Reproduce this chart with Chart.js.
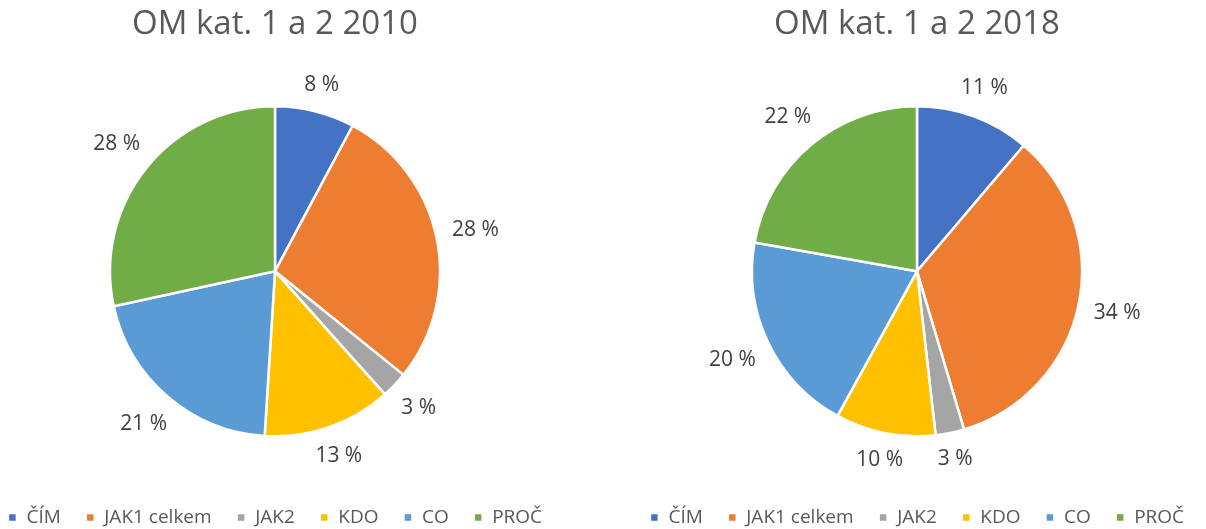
<!DOCTYPE html>
<html lang="cs">
<head>
<meta charset="UTF-8">
<title>OM kat. 1 a 2</title>
<script src="https://cdn.jsdelivr.net/npm/chart.js"></script>
<style>
    body { margin: 0; background: #fff; width: 1206px; height: 529px; overflow: hidden; position: relative; }
    .box { position: absolute; top: 0; height: 537px; width: 600px; }
    #left { left: -25px; }
    #right { left: 617px; }
</style>
</head>
<body>
<div class="box" id="left"><canvas id="c2010"></canvas></div>
<div class="box" id="right"><canvas id="c2018"></canvas></div>
<script>
    const categories = ['ČÍM', 'JAK1 celkem', 'JAK2', 'KDO', 'CO', 'PROČ'];
    const values2010 = [7.8, 28.0, 2.6, 12.6, 20.6, 28.4];
    const values2018 = [11.2, 34.2, 2.8, 9.8, 19.8, 22.2];
    const colors = ['#4472C4', '#ED7D31', '#A5A5A5', '#FFC000', '#5B9BD5', '#70AD47'];
    const font = "'Open Sans', sans-serif";

    // percent labels placed just outside the pie edge
    const outsideLabels = {
        id: 'outsideLabels',
        afterDatasetsDraw(chart) {
            const ctx = chart.ctx;
            const data = chart.data.datasets[0].data;
            const total = data.reduce((a, b) => a + b, 0);
            const meta = chart.getDatasetMeta(0);
            ctx.save();
            ctx.font = '21px ' + font;
            ctx.fillStyle = '#404040';
            ctx.textAlign = 'center';
            ctx.textBaseline = 'middle';
            meta.data.forEach((arc, i) => {
                const txt = Math.round(data[i] / total * 100) + ' %';
                const mid = (arc.startAngle + arc.endAngle) / 2;
                const dx = Math.cos(mid), dy = Math.sin(mid);
                const w = ctx.measureText(txt).width, h = 16;
                const dist = arc.outerRadius + 15 + Math.abs(dx) * w / 2 + Math.abs(dy) * h / 2;
                ctx.fillText(txt, arc.x + dx * dist, arc.y + dy * dist);
            });
            ctx.restore();
        }
    };

    function makePie(id, title, values) {
        new Chart(document.getElementById(id), {
            type: 'pie',
            data: {
                labels: categories,
                datasets: [{
                    data: values,
                    backgroundColor: colors,
                    borderColor: '#ffffff',
                    borderWidth: 2.5,
                    radius: 165
                }]
            },
            options: {
                responsive: true,
                maintainAspectRatio: false,
                animation: false,
                plugins: {
                    title: {
                        display: true,
                        text: title,
                        color: '#595959',
                        font: { family: font, size: 33, weight: 'normal' },
                        padding: { top: 5, bottom: 15 }
                    },
                    legend: {
                        position: 'bottom',
                        labels: {
                            color: '#595959',
                            font: { family: font, size: 19 },
                            boxWidth: 9,
                            boxHeight: 9,
                            padding: 25
                        }
                    },
                    tooltip: { enabled: false }
                }
            },
            plugins: [outsideLabels]
        });
    }

    makePie('c2010', 'OM kat. 1 a 2 2010', values2010);
    makePie('c2018', 'OM kat. 1 a 2 2018', values2018);
</script>
</body>
</html>
